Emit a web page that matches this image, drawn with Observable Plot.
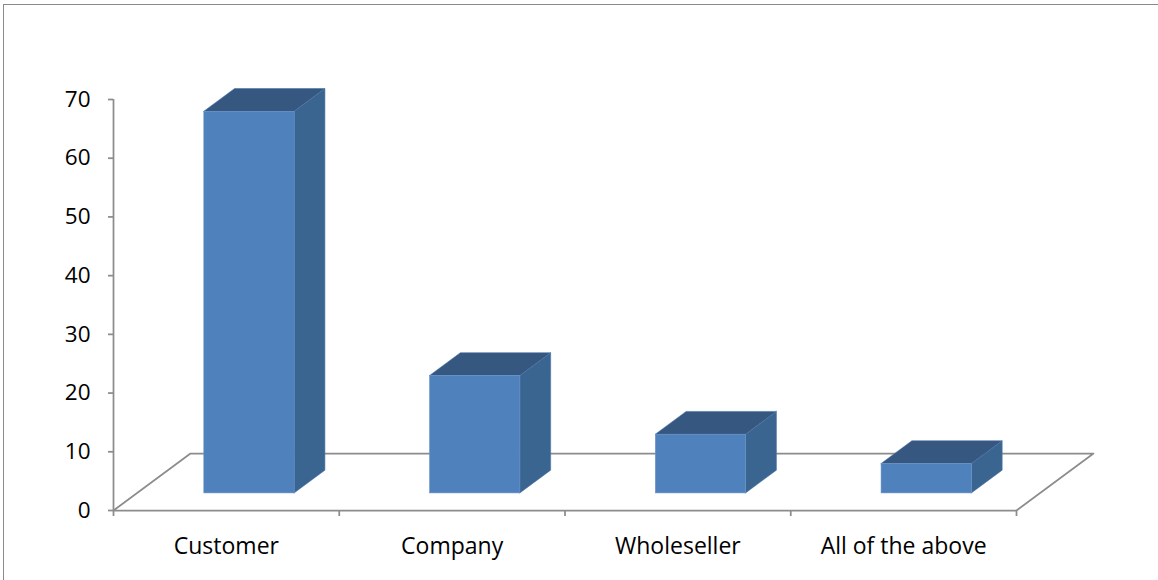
<!DOCTYPE html>
<html><head><meta charset="utf-8">
<script src="https://cdn.jsdelivr.net/npm/d3@7"></script>
<script src="https://cdn.jsdelivr.net/npm/@observablehq/plot@0.6"></script>
<style>
html,body{margin:0;padding:0;background:#fff;overflow:hidden;}
#wrap{position:relative;width:1158px;height:580px;}
#wrap svg{position:absolute;left:0;top:0;}
#frame{position:absolute;left:2.5px;top:3.5px;width:1200px;height:640px;border:1.6px solid #8a8a8a;box-sizing:border-box;pointer-events:none;}
</style></head><body><div id="wrap"><div id="frame"></div></div>
<script>
const categories = ["Customer", "Company", "Wholeseller", "All of the above"];
const values = [65, 20, 10, 5];
const yTicks = [0, 10, 20, 30, 40, 50, 60, 70];

// 3D projection constants (in scale units)
const DX = 0.341, DY = 9.7;   // floor depth offset
const F0 = 0.3, F1 = 0.7;     // bar front / back depth fractions
const B0 = 0.3, B1 = 0.7;     // bar left / right within category band
const n = categories.length;

const bars = categories.map((c, i) => ({c, i, v: values[i]}));
const front = bars.map(d => ({x1: d.i + B0 + F0 * DX, x2: d.i + B1 + F0 * DX, y1: F0 * DY, y2: F0 * DY + d.v}));
const side = bars.flatMap(d => [
  {k: d.i, x: d.i + B1 + F0 * DX, y1: F0 * DY, y2: F0 * DY + d.v},
  {k: d.i, x: d.i + B1 + F1 * DX, y1: F1 * DY, y2: F1 * DY + d.v}
]);
const topFace = bars.flatMap(d => [
  {k: d.i, y: F0 * DY + d.v, x1: d.i + B0 + F0 * DX, x2: d.i + B1 + F0 * DX},
  {k: d.i, y: F1 * DY + d.v, x1: d.i + B0 + F1 * DX, x2: d.i + B1 + F1 * DX}
]);
const floor = [{x: 0, y: 0}, {x: n, y: 0}, {x: n + DX, y: DY}, {x: DX, y: DY}, {x: 0, y: 0}];
const xTicks = d3.range(n + 1);

const grey = "#8c8c8c";
const font = "'Open Sans', sans-serif";

const chart = Plot.plot({
  width: 1158, height: 580,
  marginLeft: 113, marginRight: 142, marginTop: 99, marginBottom: 70,
  x: {domain: [0, n], axis: null},
  y: {domain: [0, 70], axis: null},
  style: {fontFamily: font, fontSize: "22px", color: "#000", background: "transparent", overflow: "visible"},
  marks: [
    Plot.line(floor, {x: "x", y: "y", stroke: grey, strokeWidth: 1.75}),
    Plot.areaY(side, {x: "x", y1: "y1", y2: "y2", z: "k", fill: "#3b6591", stroke: "#4a76a8", strokeWidth: 0.6}),
    Plot.areaX(topFace, {y: "y", x1: "x1", x2: "x2", z: "k", fill: "#355780", stroke: "#4a76a8", strokeWidth: 0.6}),
    Plot.rect(front, {x1: "x1", x2: "x2", y1: "y1", y2: "y2", fill: "#4f81bd", stroke: "#6a93c8", strokeWidth: 0.6}),
    Plot.ruleX([0], {y1: 0, y2: 70, stroke: grey, strokeWidth: 1.75}),
    Plot.axisY(yTicks, {tickSize: 5, tickPadding: 18, stroke: grey, strokeWidth: 1.75, fill: "#000", fontSize: 22.5, fontFamily: font}),
    Plot.axisX(xTicks, {tickSize: 6, tickFormat: () => "", stroke: grey, strokeWidth: 1.75}),
    Plot.text(bars, {x: d => d.i + 0.5, y: 0, text: "c", dy: 36, fontSize: 23, fontFamily: font, fill: "#000"})
  ]
});
document.getElementById("wrap").prepend(chart);
</script>
</body></html>
